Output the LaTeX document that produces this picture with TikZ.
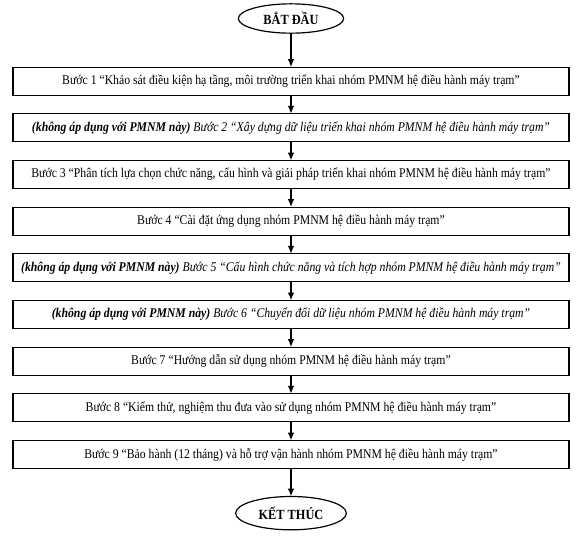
\documentclass[tikz,border=0pt]{standalone}
\usepackage{fontspec}
\setmainfont{Liberation Serif}[FakeStretch=0.88]
\usetikzlibrary{positioning, arrows.meta, shapes.geometric}

\begin{document}
\begin{tikzpicture}[
  x=0.75pt, y=-0.75pt,
  node distance = 14pt,
  every node/.style = {align=center, font=\fontsize{10}{12}\selectfont},
  box/.style = {draw, line width=0.9pt, minimum width=417pt, minimum height=21pt, inner sep=2pt, outer sep=0pt},
  terminal/.style = {draw, ellipse, line width=0.9pt, minimum width=79pt, minimum height=22pt, inner sep=1pt, outer sep=0pt, font=\bfseries\fontsize{10.5}{12}\selectfont},
  arrow/.style = {-{Latex[length=6pt, width=5pt]}, line width=1.5pt}
]
\useasboundingbox (0,0) rectangle (576,543);

% --- Start
\node[terminal] (start) at (291,18.5) {BẮT ĐẦU};

% --- Steps
\node[box, below=25.5pt of start] (s1) {Bước 1 “Khảo sát điều kiện hạ tầng, môi trường triển khai nhóm PMNM hệ điều hành máy trạm”};
\node[box, below=of s1] (s2) {\textbf{\textit{(không áp dụng với PMNM này)}} \textit{Bước 2 “Xây dựng dữ liệu triển khai nhóm PMNM hệ điều hành máy trạm”}};
\node[box, below=of s2] (s3) {Bước 3 “Phân tích lựa chọn chức năng, cấu hình và giải pháp triển khai nhóm PMNM hệ điều hành máy trạm”};
\node[box, below=of s3] (s4) {Bước 4 “Cài đặt ứng dụng nhóm PMNM hệ điều hành máy trạm”};
\node[box, below=of s4] (s5) {\textbf{\textit{(không áp dụng với PMNM này)}} \textit{Bước 5 “Cấu hình chức năng và tích hợp nhóm PMNM hệ điều hành máy trạm”}};
\node[box, below=of s5] (s6) {\textbf{\textit{(không áp dụng với PMNM này)}} \textit{Bước 6 “Chuyển đổi dữ liệu nhóm PMNM hệ điều hành máy trạm”}};
\node[box, below=of s6] (s7) {Bước 7 “Hướng dẫn sử dụng nhóm PMNM hệ điều hành máy trạm”};
\node[box, below=of s7] (s8) {Bước 8 “Kiểm thử, nghiệm thu đưa vào sử dụng nhóm PMNM hệ điều hành máy trạm”};
\node[box, below=of s8] (s9) {Bước 9 “Bảo hành (12 tháng) và hỗ trợ vận hành nhóm PMNM hệ điều hành máy trạm”};

% --- End
\node[terminal, minimum width=83pt, minimum height=25pt, below=21pt of s9] (end) {KẾT THÚC};

\draw[arrow] (start) -- (s1);
\draw[arrow] (s1) -- (s2);
\draw[arrow] (s2) -- (s3);
\draw[arrow] (s3) -- (s4);
\draw[arrow] (s4) -- (s5);
\draw[arrow] (s5) -- (s6);
\draw[arrow] (s6) -- (s7);
\draw[arrow] (s7) -- (s8);
\draw[arrow] (s8) -- (s9);
\draw[arrow] (s9) -- (end);

\end{tikzpicture}
\end{document}
